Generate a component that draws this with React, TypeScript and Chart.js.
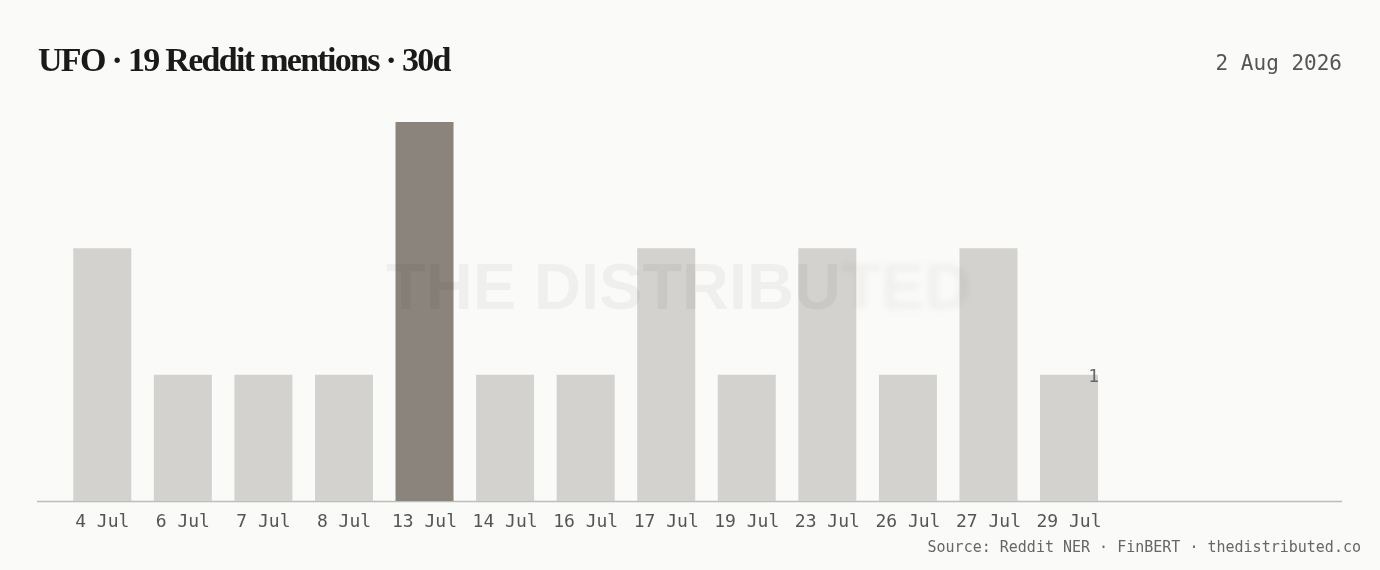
import React, { useEffect, useRef } from "react";
import { Chart, registerables } from "chart.js";

Chart.register(...registerables);

const categories = ["4 Jul", "6 Jul", "7 Jul", "8 Jul", "13 Jul", "14 Jul", "16 Jul", "17 Jul", "19 Jul", "23 Jul", "26 Jul", "27 Jul", "29 Jul", "", "", ""];
const mentions = [2, 1, 1, 1, 3, 1, 1, 2, 1, 2, 1, 2, 1, null, null, null];
const highlightIndex = 4;
const labelIndex = 12;
const titleText = "UFO · 19 Reddit mentions · 30d";
const dateText = "2 Aug 2026";
const sourceText = "Source: Reddit NER · FinBERT · thedistributed.co";
const watermarkSharp = "THE DISTRIBU";
const watermarkBlur = "TED";

const MONO = '"DejaVu Sans Mono", "Liberation Mono", monospace';

export default function App() {
  const ref = useRef<HTMLCanvasElement | null>(null);

  useEffect(() => {
    document.body.style.margin = "0";
    document.body.style.background = "#fafaf8";
    const canvas = ref.current;
    if (!canvas) return;

    const overlay = {
      id: "overlay",
      beforeDatasetsDraw(chart: any) {
        const ctx = chart.ctx;
        const y0 = chart.scales.y.getPixelForValue(0);
        ctx.save();
        ctx.strokeStyle = "#bdbdbb";
        ctx.lineWidth = 1.5;
        ctx.beginPath();
        ctx.moveTo(37, y0 + 0.5);
        ctx.lineTo(1342, y0 + 0.5);
        ctx.stroke();
        ctx.restore();
      },
      afterDatasetsDraw(chart: any) {
        const ctx = chart.ctx;
        const meta = chart.getDatasetMeta(0);
        const bar = meta.data[labelIndex];
        if (bar) {
          const props = bar.getProps(["x", "y", "width"], true);
          ctx.save();
          ctx.font = "18px " + MONO;
          ctx.fillStyle = "#666";
          ctx.textAlign = "right";
          ctx.textBaseline = "middle";
          ctx.fillText(String(mentions[labelIndex]), props.x + props.width / 2 + 1, props.y + 3);
          ctx.restore();
        }
        ctx.save();
        ctx.font = 'bold 65px "Liberation Sans", Arial, sans-serif';
        ctx.textBaseline = "alphabetic";
        ctx.textAlign = "left";
        ctx.fillStyle = "rgba(0,0,0,0.042)";
        const x0 = 386;
        const base = 309;
        ctx.fillText(watermarkSharp, x0, base);
        const w = ctx.measureText(watermarkSharp).width;
        ctx.filter = "blur(3px)";
        ctx.fillStyle = "rgba(0,0,0,0.038)";
        ctx.fillText(watermarkBlur, x0 + w, base);
        ctx.restore();
      },
    };

    const chart = new Chart(canvas, {
      type: "bar",
      data: {
        labels: categories,
        datasets: [
          {
            data: mentions as any,
            backgroundColor: mentions.map((_, i) => (i === highlightIndex ? "#8a847c" : "#d3d2ce")),
            borderWidth: 0,
            categoryPercentage: 1,
            barPercentage: 0.72,
          },
        ],
      },
      options: {
        animation: false,
        responsive: false,
        devicePixelRatio: 1,
        layout: { padding: { left: 62, right: 29, top: 122, bottom: 29 } },
        plugins: { legend: { display: false }, tooltip: { enabled: false } },
        scales: {
          x: {
            grid: { display: false, drawTicks: false },
            border: { display: false },
            ticks: {
              font: { family: MONO, size: 18 },
              color: "#555",
              padding: 11,
              maxRotation: 0,
              autoSkip: false,
            },
            afterFit: (scale: any) => {
              scale.height = 40;
            },
          },
          y: { display: false, min: 0, max: 3 },
        },
      },
      plugins: [overlay],
    });
    return () => chart.destroy();
  }, []);

  return (
    <div style={{ position: "fixed", left: 0, top: 0, width: 1380, height: 570, background: "#fafaf8", overflow: "hidden" }}>
      <canvas ref={ref} width={1380} height={570} style={{ position: "absolute", left: 0, top: 0, width: 1380, height: 570 }} />
      <div
        style={{
          position: "absolute",
          left: 38,
          top: 40,
          fontFamily: '"Liberation Serif", "DejaVu Serif", serif',
          fontWeight: 700,
          fontSize: 34,
          letterSpacing: "-1.7px",
          lineHeight: "40px",
          color: "#1a1a1a",
          whiteSpace: "nowrap",
        }}
      >
        {titleText}
      </div>
      <div
        style={{
          position: "absolute",
          right: 38,
          top: 50,
          fontFamily: MONO,
          fontSize: 21,
          lineHeight: "26px",
          color: "#555",
          whiteSpace: "nowrap",
        }}
      >
        {dateText}
      </div>
      <div
        style={{
          position: "absolute",
          right: 19,
          top: 537,
          fontFamily: MONO,
          fontSize: 15,
          lineHeight: "20px",
          color: "#666",
          whiteSpace: "nowrap",
        }}
      >
        {sourceText}
      </div>
    </div>
  );
}
